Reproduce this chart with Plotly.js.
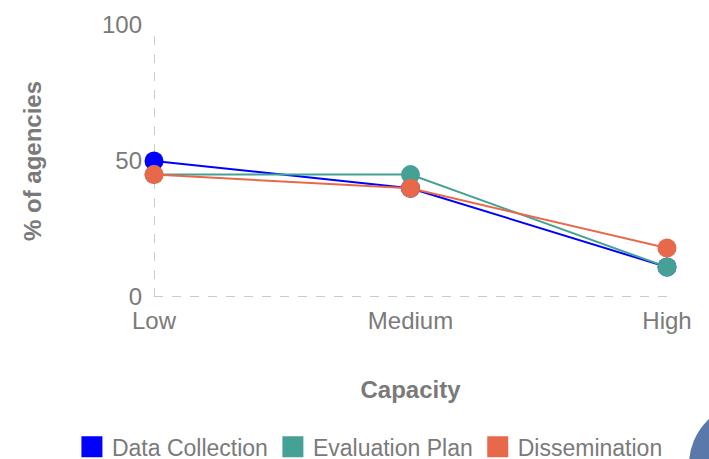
<!DOCTYPE html>
<html>
<head>
<meta charset="utf-8">
<script src="https://cdn.plot.ly/plotly-3.0.1.min.js"></script>
<style>html,body{margin:0;padding:0;background:#fff;}#chart{width:709px;height:459px;}</style>
</head>
<body>
<div id="chart"></div>
<script>
const categories = ["Low", "Medium", "High"];
const seriesNames = ["Data Collection", "Evaluation Plan", "Dissemination"];
const dataCollection = [50, 40, 11];
const evaluationPlan = [45, 45, 11];
const dissemination = [45, 40, 18];
const yTicks = [0, 50, 100];
const colors = ["#0000ff", "#45a096", "#e8694a"];

const seriesValues = [dataCollection, evaluationPlan, dissemination];
const font = "'Liberation Sans', Arial, Helvetica, sans-serif";
const gray = "#7a7a7a";

const traces = [];
seriesValues.forEach((vals, i) => {
  traces.push({
    x: categories, y: vals, type: "scatter", mode: "lines+markers",
    name: seriesNames[i], showlegend: false, cliponaxis: false,
    line: {color: colors[i], width: 2},
    marker: {color: colors[i], size: 19}
  });
});
seriesValues.forEach((vals, i) => {
  traces.push({
    x: [null], y: [null], type: "scatter", mode: "markers",
    name: seriesNames[i], showlegend: true,
    marker: {color: colors[i], size: 16, symbol: "square", line: {color: colors[i], width: 5}}
  });
});

const layout = {
  width: 709, height: 459,
  margin: {l: 154, r: 42, t: 25, b: 162, autoexpand: false},
  paper_bgcolor: "#fff", plot_bgcolor: "#fff",
  font: {family: font, color: gray, size: 24},
  showlegend: true,
  legend: {orientation: "h", x: -0.16, xanchor: "left", y: -0.472, yanchor: "top",
           font: {size: 23, color: gray}, itemsizing: "trace", tracegroupgap: 0},
  xaxis: {
    type: "category", range: [0, 2], showgrid: false, zeroline: false, showline: false,
    tickfont: {size: 24, color: gray}, ticks: "", automargin: false, ticklabelstandoff: 7,
    title: {text: "<b>Capacity</b>", font: {size: 24, color: gray}, standoff: 48}
  },
  yaxis: {
    range: [0, 100], tickvals: yTicks, showgrid: false, zeroline: false, showline: false,
    tickfont: {size: 24, color: gray}, ticks: "", automargin: false, ticklabelstandoff: 11,
    title: {text: "<b>% of agencies</b>", font: {size: 24, color: gray}, standoff: 53}
  },
  shapes: [
    {type: "line", xref: "x", yref: "paper", x0: 0, x1: 0, y0: 0, y1: 0.99,
     line: {color: "#bbbbbb", width: 1.5, dash: "dash"}, layer: "below"},
    {type: "line", xref: "paper", yref: "y", x0: 0, x1: 1, y0: 0, y1: 0,
     line: {color: "#bbbbbb", width: 1.5, dash: "dash"}, layer: "below"},
    {type: "circle", xref: "paper", yref: "paper", x0: 1.0429, x1: 1.2885, y0: -0.849, y1: -0.386,
     fillcolor: "#5b78aa", line: {width: 0}, layer: "above"}
  ]
};

Plotly.newPlot("chart", traces, layout, {displayModeBar: false, staticPlot: true});
</script>
</body>
</html>
